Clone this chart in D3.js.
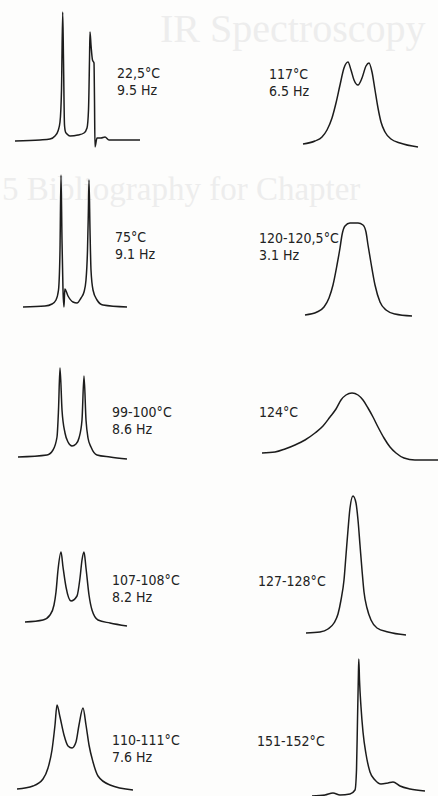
<!DOCTYPE html>
<html>
<head>
<meta charset="utf-8">
<script src="https://cdn.jsdelivr.net/npm/d3@7"></script>
<style>
  html, body { margin: 0; padding: 0; background: #fdfdfc; }
  svg { display: block; }
</style>
</head>
<body>
<script>
// temperatures and line separations, as printed next to each trace
var temps = ["22,5°C", "75°C", "99-100°C", "107-108°C", "110-111°C",
             "117°C", "120-120,5°C", "124°C", "127-128°C", "151-152°C"];
var splits = ["9.5 Hz", "9.1 Hz", "8.6 Hz", "8.2 Hz", "7.6 Hz",
              "6.5 Hz", "3.1 Hz", "", "", ""];

var trace22 = [[-61,0],[-36,1],[-26,2],[-21,5],[-18,10],[-16,19],[-14.5,51],[-13.3,129],
  [-12.5,81],[-11.5,16],[-10.5,9],[-9,7],[-6,5],[2,6],[8,8],[11,13],[12.5,31],[13.5,81],
  [14,109],[15,96],[16.5,81],[18,78],[18.5,41],[19,-6],[21,3],[25,3],[29,4],[33,1],[64,1]];
var trace75 = [[-52,0],[-30,1],[-23,3],[-19,7],[-16.5,17],[-15,57],[-14,132],[-13,67],
  [-12,17],[-11,0],[-10.2,18],[-7,11],[-2,5],[2,4],[6,9],[9,15],[11,27],[12.5,57],
  [13.3,92],[14,127],[15,77],[16,37],[18,17],[22,7],[28,2],[52,0]];
var trace99 = [[-54,0],[-25,2],[-19,7],[-15,20],[-13.5,47],[-12,89],[-10,47],[-7,24],
  [-4,15],[0,11],[4,13],[7,19],[10,37],[12,81],[14,37],[16,19],[19,10],[25,2],[38,0],[55,-2]];
var trace107 = [[-47,0],[-29,2],[-22,7],[-18,17],[-16,30],[-14,52],[-11,70],[-9,55],
  [-6,35],[-1,21],[5,26],[8,44],[10,62],[12,70],[14,54],[17,27],[20,12],[26,2],[38,-1],[55,-4]];
var trace110 = [[-53,0],[-37,3],[-27,10],[-22,21],[-18,39],[-15,64],[-13,84],[-10,72],
  [-6,54],[-2,43],[2,41],[6,47],[9,64],[13,81],[16,64],[19,44],[23,27],[28,13],[40,4],[63,-1]];
var trace117 = [[-55,1],[-43,4],[-36,8],[-31,15],[-26,27],[-22,42],[-18,60],[-14,77],
  [-10,83],[-7,75],[-4,65],[0,60],[4,67],[8,79],[11,82],[14,73],[17,55],[20,37],[23,23],
  [27,13],[33,6],[42,2],[60,-2]];
var trace120 = [[-51,0],[-39,3],[-32,8],[-27,17],[-23,30],[-19,50],[-16,67],[-14,80],
  [-11,89],[-6,92],[2,92],[7,90],[10,83],[12,70],[15,52],[19,30],[24,13],[30,5],[39,1],[56,-1]];
var trace124 = [[-90,0],[-77,1],[-67,4],[-57,8],[-47,13],[-37,20],[-29,27],[-22,36],
  [-16,44],[-11,53],[-6,58],[0,60],[6,58],[11,53],[16,45],[21,36],[26,26],[32,15],[38,6],
  [44,0],[52,-5],[63,-7],[86,-7]];
var trace127 = [[-47,0],[-33,1],[-25,4],[-19,10],[-15,19],[-12,33],[-9,53],[-7,78],
  [-5,103],[-3,125],[0,137],[3,130],[5,113],[7,88],[9,63],[11,41],[14,25],[18,13],[24,5],
  [35,1],[53,-2]];
var trace151 = [[-46,-1],[-33,0],[-25,2],[-18,0],[-8,1],[-3,5],[-1.5,25],[-0.5,75],
  [0.3,115],[0.8,136],[1.5,115],[3,88],[5,63],[8,41],[12,23],[17,15],[23,11],[30,12],
  [35,13],[42,9],[52,6],[67,4]];

var traces = [trace22, trace75, trace99, trace107, trace110,
              trace117, trace120, trace124, trace127, trace151];

// page placement of each trace: centre, baseline, label anchor
var layout = [
  {cx: 76, base: 141, lx: 117, ly: 78},
  {cx: 75, base: 307, lx: 115, ly: 242},
  {cx: 72, base: 457, lx: 112, ly: 417},
  {cx: 72, base: 622, lx: 112, ly: 585},
  {cx: 70, base: 789, lx: 112, ly: 745},
  {cx: 358, base: 145, lx: 269, ly: 79},
  {cx: 356, base: 315, lx: 259, ly: 243},
  {cx: 352, base: 453, lx: 259, ly: 417},
  {cx: 353, base: 633, lx: 258, ly: 586},
  {cx: 358, base: 795, lx: 257, ly: 746}
];

var W = 438, H = 796;
var svg = d3.select("body").append("svg")
    .attr("width", W)
    .attr("height", H);

// faint show-through of the facing page
var ghost = svg.append("g")
    .attr("fill", "#ededed")
    .style("font-family", "'Liberation Serif', serif");
ghost.append("text").attr("x", 160).attr("y", 42).style("font-size", "40px").text("IR Spectroscopy");
ghost.append("text").attr("x", 2).attr("y", 200).style("font-size", "33px").text("5 Bibliography for Chapter");

var line = d3.line().curve(d3.curveMonotoneX);

traces.forEach(function (tr, i) {
    var p = layout[i];
    var x = d3.scaleLinear().domain([-100, 100]).range([p.cx - 100, p.cx + 100]);
    var y = d3.scaleLinear().domain([0, 100]).range([p.base, p.base - 100]);
    line.x(function (d) { return x(d[0]); })
        .y(function (d) { return y(d[1]); });

    svg.append("path")
        .datum(tr)
        .attr("d", line)
        .attr("fill", "none")
        .attr("stroke", "#1c1c1c")
        .attr("stroke-width", 1.5)
        .attr("stroke-linejoin", "round");

    var lab = svg.append("text")
        .attr("x", p.lx)
        .attr("y", p.ly)
        .attr("fill", "#222")
        .style("font-family", "'DejaVu Sans Condensed', 'DejaVu Sans', sans-serif")
        .style("font-stretch", "condensed")
        .style("font-size", "14px");
    lab.append("tspan").attr("x", p.lx).text(temps[i]);
    if (splits[i]) {
        lab.append("tspan").attr("x", p.lx).attr("dy", 17).text(splits[i]);
    }
});
</script>
</body>
</html>
